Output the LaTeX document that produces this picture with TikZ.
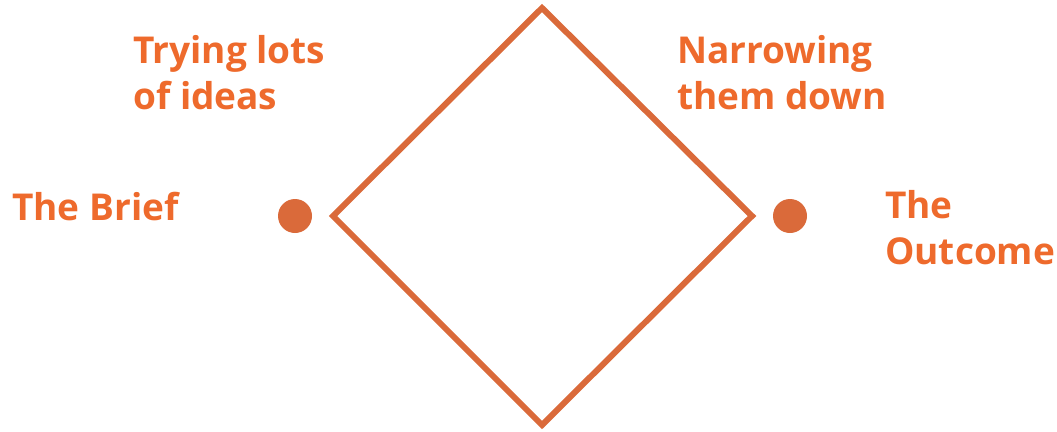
\documentclass[tikz,border=0pt]{standalone}
\usepackage{fontspec}
\setmainfont{Open Sans}
\definecolor{labelorange}{HTML}{EE6A2C}
\definecolor{lineorange}{HTML}{DA6A3A}

\begin{document}
\begin{tikzpicture}[x=1pt,y=-1pt,
        lbl/.style={anchor=base west,align=left,inner sep=0pt,text=labelorange,
            font=\fontsize{37}{46}\selectfont\bfseries},
        dot/.style={circle,fill=lineorange,inner sep=0pt,minimum size=34pt}]
        \useasboundingbox (0,0) rectangle (1057,431);
        % the diamond
        \coordinate (top) at (542,8);
        \coordinate (bottom) at (542,425);
        \coordinate (west) at (333,216);
        \coordinate (east) at (752,216);
        \draw[lineorange,line width=6pt,line join=miter] (west) -- (top) -- (east) -- (bottom) -- cycle;
        % start and end points
        \node[dot] (brief) at (295,216) {};
        \node[dot] (outcome) at (790,216) {};
        % labels
        \node[lbl] (trying) at (133,109) {Trying lots\\of ideas};
        \node[lbl] (narrowing) at (677,109) {Narrowing\\them down};
        \node[lbl] (thebrief) at (12,220) {The Brief};
        \node[lbl] (theoutcome) at (885,264) {The\\Outcome};
    \end{tikzpicture}
\end{document}
